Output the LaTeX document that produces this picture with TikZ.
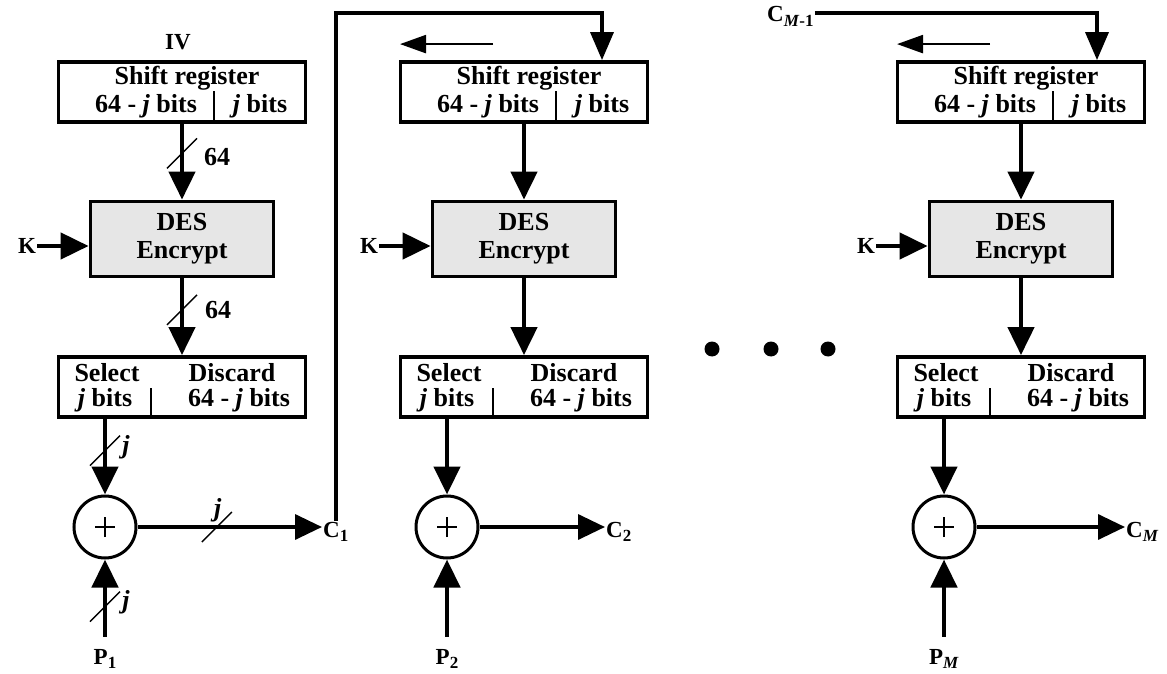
\documentclass[tikz,border=0pt]{standalone}
\usepackage{fontspec}
\setmainfont{Liberation Serif}
\usepackage{tikz}
\usetikzlibrary{arrows.meta,positioning}
\definecolor{cfbInk}{HTML}{000000}
\definecolor{cfbFill}{HTML}{E6E6E6}
\newcommand{\bitj}{\textit{j}}
\newcommand{\lowidx}[1]{\raisebox{-0.4ex}{\fontsize{17}{17}\selectfont #1}}
\tikzset{
  cfb diagram/.style={x=1pt, y=1pt, font=\fontsize{26}{28}\selectfont\bfseries,
    text=cfbInk, line join=miter},
  cfb box/.style={draw=cfbInk, line width=3.8pt, minimum width=247pt,
    minimum height=60pt, inner sep=0pt},
  cfb des/.style={cfb box, fill=cfbFill, minimum width=183pt,
    minimum height=75pt, align=center},
  cfb text/.style={inner sep=0pt},
  cfb xor/.style={draw=cfbInk, circle, line width=3pt, minimum size=62pt, inner sep=0pt},
  cfb arrow/.style={-{Triangle[length=28pt,width=26pt]}, draw=cfbInk, line width=4.5pt},
  cfb out/.style={-{Triangle[length=27pt,width=25pt]}, draw=cfbInk, line width=3.5pt},
  cfb feedback/.style={-{Triangle[length=28pt,width=23pt]}, draw=cfbInk, line width=3.5pt},
  cfb shift/.style={-{Triangle[length=26pt,width=18pt]}, draw=cfbInk, line width=2.3pt},
  cfb divider/.style={draw=cfbInk, line width=1.5pt},
  cfb slash/.style={draw=cfbInk, line width=1.5pt},
  cfb label/.style={font=\fontsize{23}{23}\selectfont\bfseries, inner sep=1pt}
}

\begin{document}
\begin{tikzpicture}[cfb diagram]
\useasboundingbox (0,0) rectangle (1167,673);
% one stage per column
\foreach \i/\cx/\s/\co in {1/182/1/217, 2/524/2/158, 3/1021/\textit{M}/181} {
  \node[cfb box] (sr\i) at (\cx,581) {};
  \node[cfb text] (srtop\i) at ([shift={(5,14)}]sr\i.center) {Shift register};
  \node[cfb text] (srleft\i) at ([shift={(-36,-14)}]sr\i.center) {64 - \bitj{} bits};
  \node[cfb text] (srright\i) at ([shift={(78,-14)}]sr\i.center) {\bitj{} bits};
  \draw[cfb divider] ([xshift=32]sr\i.south) -- ++(0,33);
  \node[cfb des] (des\i) at (\cx,434) {DES\\Encrypt};
  \node[cfb box] (sel\i) at (\cx,286) {};
  \node[cfb text] (selA\i) at ([shift={(-75,14)}]sel\i.center) {Select};
  \node[cfb text] (selB\i) at ([shift={(-77,-13)}]sel\i.center) {\bitj{} bits};
  \node[cfb text] (disA\i) at ([shift={(50,14)}]sel\i.center) {Discard};
  \node[cfb text] (disB\i) at ([shift={(57,-13)}]sel\i.center) {64 - \bitj{} bits};
  \draw[cfb divider] ([xshift=-31]sel\i.south) -- ++(0,31);
  \node[cfb xor] (xor\i) at ({\cx-77},146) {};
  \draw[line width=1.5pt] ([xshift=-10]xor\i.center) -- ([xshift=10]xor\i.center);
  \draw[line width=1.5pt] ([yshift=-10]xor\i.center) -- ([yshift=10]xor\i.center);
  \node[cfb label] (k\i) at ({\cx-155},427) {K};
  \node[cfb label, anchor=base] (p\i) at ({\cx-77},9) {P\lowidx{\s}};
  \node[cfb label, anchor=base west] (c\i) at ({\cx-77+\co},136) {C\lowidx{\s}};
  \draw[cfb arrow] (k\i.east) -- (k\i.east -| des\i.west);
  \draw[cfb arrow] (sr\i.south) -- coordinate[pos=0.39] (bus a\i) (des\i.north);
  \draw[cfb arrow] (des\i.south) -- coordinate[pos=0.41] (bus b\i) (sel\i.north);
  \draw[cfb arrow] (sel\i.south -| xor\i) -- coordinate[pos=0.42] (bus c\i) (xor\i.north);
  \draw[cfb arrow] ([yshift=11]p\i.north) -- coordinate[pos=0.39] (bus e\i) (xor\i.south);
  \draw[cfb out] (xor\i.east) -- coordinate[pos=0.43] (bus d\i) (xor\i.east -| c\i.west);
}
% bus widths on the first stage
\foreach \m/\t/\dx/\dy in {a/64/35/-4, b/64/36/0, c/\bitj/21/3, d/\bitj/1/17, e/\bitj/21/4} {
  \draw[cfb slash] ([shift={(-15,-15)}]bus \m1) -- ([shift={(15,15)}]bus \m1);
  \node (w\m) at ([shift={(\dx,\dy)}]bus \m1) {\t};
}
\node[cfb label] (iv) at (178,631) {IV};
% feedback into the later stages
\coordinate (top) at (0,660);
\coordinate (in2) at ([xshift=78]sr2.north);
\coordinate (in3) at ([xshift=76]sr3.north);
\draw[cfb feedback] (c1.north) -- (c1.north |- top) -| (in2);
\node[cfb label, anchor=base west] (cm1) at (766,651) {C\lowidx{\textit{M}-1}};
\draw[cfb feedback] (cm1.east |- top) -| (in3);
\foreach \i in {2,3}
  \draw[cfb shift] ([shift={(-31,16)}]sr\i.north) -- ++(-93,0);
\foreach \dx in {712,771,828} \fill[cfbInk] (\dx,324) circle (7.5);
\end{tikzpicture}
\end{document}
